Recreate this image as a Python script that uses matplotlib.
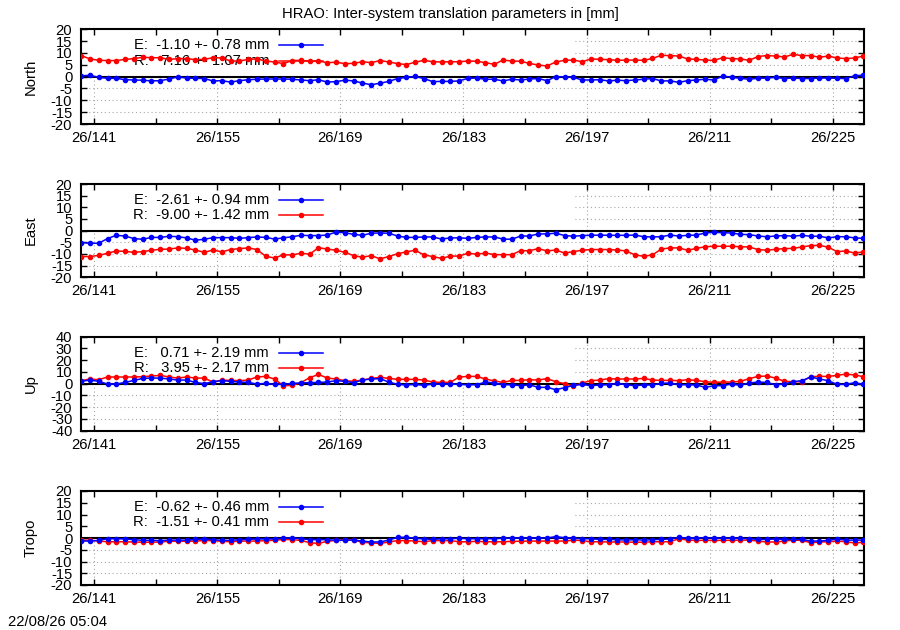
import numpy as np
import matplotlib
matplotlib.use('Agg')
import matplotlib.pyplot as plt
from matplotlib.patches import Rectangle
from matplotlib.ticker import FixedLocator

plt.rcParams['font.family'] = ['Liberation Sans', 'DejaVu Sans']
plt.rcParams['font.size'] = 10.6

title = 'HRAO: Inter-system translation parameters in [mm]'
stamp = '22/08/26 05:04'

# daily solutions, first one at day 139.5
first_day = 139.5
tick_days = [141, 155, 169, 183, 197, 211, 225]
tick_labels = ['26/141', '26/155', '26/169', '26/183', '26/197', '26/211', '26/225']
minor_days = [148, 162, 176, 190, 204, 218]

north_e = [0.3, 0.6, -0.3, -0.7, -0.7, -1.3, -1.4, -1.5, -1.8, -1.7,
           -1.0, -0.1, -0.6, -0.7, -0.8, -1.8, -1.7, -2.3, -1.7, -1.3,
           -1.1, -1.0, -1.0, -1.0, -1.1, -1.4, -1.7, -1.3, -2.3, -2.1,
           -1.5, -1.8, -2.7, -3.4, -2.8, -2.0, -0.8, -0.3, 0.1, -0.8,
           -2.1, -2.0, -2.0, -1.8, -0.7, -0.6, -1.1, -1.1, -1.8, -1.1,
           -1.4, -1.0, -0.8, -1.7, 0.0, -0.1, -0.3, -1.4, -1.4, -1.3,
           -1.8, -1.5, -1.7, -1.4, -1.1, -0.8, -1.8, -1.8, -2.4, -1.7,
           -1.4, -1.1, -1.4, 0.3, -0.3, -0.7, -1.1, -0.7, -0.6, -0.3,
           -0.8, -0.6, -0.8, -0.8, -0.6, -0.6, -0.7, -0.8, 0.4, 0.6]
north_r = [8.9, 7.5, 6.9, 6.8, 6.8, 7.3, 7.6, 8.2, 8.0, 8.0,
           7.3, 7.6, 7.6, 7.2, 7.3, 8.0, 7.9, 6.6, 6.6, 7.3,
           7.5, 6.6, 6.2, 5.5, 6.8, 6.9, 6.5, 6.6, 5.9, 6.1,
           5.5, 5.6, 6.3, 5.9, 6.8, 6.2, 5.5, 5.1, 6.1, 6.9,
           6.3, 6.2, 6.3, 6.3, 6.6, 6.5, 5.9, 5.2, 7.0, 6.6,
           6.5, 5.6, 4.9, 4.5, 6.2, 6.9, 7.0, 6.3, 7.5, 7.3,
           7.2, 6.9, 7.0, 7.0, 6.9, 7.7, 9.0, 8.9, 8.7, 7.5,
           7.3, 7.0, 6.9, 8.0, 7.6, 7.5, 6.9, 8.5, 8.9, 8.7,
           8.3, 9.4, 8.9, 8.9, 8.2, 8.7, 7.9, 7.6, 7.9, 8.7]

east_e = [-5.1, -5.4, -5.4, -3.4, -2.0, -2.3, -3.4, -3.7, -2.9, -2.9,
          -2.4, -2.6, -3.1, -4.1, -3.7, -3.0, -3.0, -3.0, -3.3, -3.0,
          -2.7, -2.9, -3.6, -3.1, -2.6, -2.0, -2.1, -2.1, -1.9, -0.6,
          -0.9, -1.6, -2.0, -1.1, -1.0, -1.1, -2.3, -2.9, -2.9, -2.7,
          -2.7, -3.6, -3.1, -3.1, -3.3, -2.9, -2.7, -2.7, -3.6, -3.7,
          -2.3, -2.3, -1.4, -1.4, -1.1, -2.1, -2.4, -2.1, -2.0, -1.9,
          -2.0, -2.0, -2.0, -1.9, -2.6, -2.7, -2.6, -1.9, -2.3, -2.0,
          -1.9, -1.0, -0.7, -0.9, -1.0, -1.6, -1.7, -2.3, -2.6, -2.3,
          -2.1, -2.4, -2.0, -2.4, -2.4, -3.1, -2.6, -2.6, -3.1, -3.3]
east_r = [-11.1, -11.1, -10.6, -9.7, -8.7, -8.9, -9.3, -9.0, -8.4, -8.0,
          -7.9, -7.4, -7.6, -8.3, -9.3, -8.3, -9.1, -8.1, -7.7, -7.4,
          -8.1, -11.0, -11.7, -10.4, -10.4, -9.7, -10.1, -7.3, -7.9, -8.4,
          -9.3, -10.7, -11.4, -10.7, -12.1, -11.1, -9.9, -9.1, -8.4, -10.4,
          -11.1, -11.9, -10.9, -10.9, -9.7, -10.1, -9.6, -10.3, -10.3, -10.3,
          -8.6, -8.6, -7.7, -8.7, -8.3, -9.6, -9.0, -8.4, -8.1, -8.1,
          -8.1, -8.3, -8.7, -10.4, -11.0, -10.4, -7.9, -7.4, -7.4, -8.4,
          -7.6, -6.9, -6.7, -6.7, -6.7, -6.9, -7.0, -8.1, -8.4, -8.0,
          -7.7, -7.6, -7.0, -6.4, -6.3, -7.1, -9.0, -8.7, -9.6, -9.1]

up_e = [2.0, 3.1, 2.0, -0.3, -0.3, 1.1, 2.8, 4.5, 4.8, 4.8,
        4.0, 3.1, 3.1, 1.1, 0.0, 1.7, 2.6, 2.0, 1.4, 1.1,
        -0.3, 0.3, -0.6, -0.6, 0.3, 0.6, 0.9, 1.1, 1.4, 2.6,
        2.0, 0.9, 3.1, 4.0, 4.3, 1.4, -0.6, -1.1, -0.6, -1.4,
        -0.3, -0.3, -0.3, -0.6, -0.9, -0.9, 1.4, 0.6, -0.9, -0.9,
        -1.7, -0.9, -3.1, -3.1, -5.1, -3.4, -1.4, -0.6, -1.7, -1.1,
        -0.9, 0.3, -0.9, -1.7, -1.1, -1.1, 0.3, 0.6, -0.9, -0.9,
        -1.1, -3.1, -1.7, -1.7, -0.3, -1.4, 0.6, 1.4, 1.1, -0.9,
        -0.3, 1.7, 2.6, 5.7, 4.0, 2.6, -0.6, -0.6, 0.9, -0.6]
up_r = [2.6, 4.0, 3.4, 5.7, 5.7, 5.7, 5.7, 6.0, 6.5, 7.1,
        5.7, 4.8, 5.7, 4.8, 4.8, 1.4, 3.1, 2.8, 2.6, 3.1,
        5.7, 6.2, 4.0, -1.7, -1.4, 0.9, 5.1, 7.9, 4.8, 4.0,
        2.6, 2.0, 3.1, 4.5, 5.4, 4.5, 3.7, 3.7, 3.7, 3.1,
        1.4, 1.1, 1.1, 5.7, 6.2, 6.2, 4.0, 2.3, 1.1, 2.8,
        2.8, 3.4, 3.1, 4.3, 1.7, 0.0, -2.0, 0.6, 2.6, 3.1,
        4.3, 4.0, 4.0, 4.0, 4.5, 3.1, 2.8, 2.8, 2.6, 3.4,
        2.8, 1.7, 1.1, 1.4, 1.4, 2.0, 4.3, 6.2, 6.5, 4.8,
        2.0, 1.7, 1.7, 6.0, 6.2, 6.2, 7.1, 8.2, 7.4, 6.0]

tropo_e = [-1.3, -1.3, -1.0, -0.3, -0.3, -0.4, -0.7, -1.0, -1.0, -1.1,
           -0.9, -0.9, -0.9, -0.6, -0.4, -0.7, -1.0, -1.0, -0.7, -0.6,
           -0.4, -0.4, -0.4, -0.1, 0.1, -0.3, -0.7, -0.7, -0.7, -1.0,
           -0.9, -0.9, -1.3, -1.7, -1.7, -0.9, 0.3, 0.3, -0.1, -0.4,
           -0.6, -0.3, -0.3, -0.1, -0.3, -0.3, -0.3, -0.3, -0.1, -0.1,
           0.1, -0.1, 0.1, 0.0, 0.6, 0.1, -0.1, -0.3, -0.3, -0.6,
           -0.6, -0.7, -0.9, -0.7, -0.9, -0.7, -0.6, -0.4, 0.3, -0.1,
           0.0, 0.1, 0.0, -0.1, -0.1, -0.1, -0.3, -0.6, -0.6, -0.4,
           -0.6, -0.6, -0.6, -1.3, -1.3, -1.0, -0.4, -0.9, -0.9, -0.9]
tropo_r = [-0.9, -1.0, -1.3, -1.6, -1.6, -1.6, -1.7, -1.8, -1.8, -1.7,
           -1.4, -1.4, -1.4, -1.3, -1.1, -1.1, -1.4, -1.6, -1.3, -1.3,
           -1.3, -1.1, -1.0, -0.6, -0.7, -1.0, -2.0, -2.3, -1.4, -1.0,
           -0.7, -0.9, -1.8, -2.1, -2.3, -1.7, -1.1, -1.1, -1.3, -1.6,
           -1.1, -1.1, -1.1, -1.6, -1.6, -1.4, -1.6, -1.6, -1.6, -1.4,
           -1.4, -1.3, -1.3, -1.3, -1.3, -1.3, -0.9, -1.1, -1.6, -1.6,
           -1.7, -1.7, -1.7, -1.8, -1.8, -1.6, -1.6, -1.6, -0.3, -0.9,
           -1.0, -1.0, -1.0, -1.0, -1.0, -0.9, -0.9, -1.3, -1.7, -1.7,
           -1.3, -0.9, -1.0, -2.0, -1.7, -1.6, -1.3, -1.6, -2.1, -1.8]

panel_names = ['North', 'East', 'Up', 'Tropo']
panel_e = [north_e, east_e, up_e, tropo_e]
panel_r = [north_r, east_r, up_r, tropo_r]
panel_lim = [20, 20, 40, 20]
panel_step = [5, 5, 10, 5]
legend_e = ['E:  -1.10 +- 0.78 mm', 'E:  -2.61 +- 0.94 mm',
            'E:   0.71 +- 2.19 mm', 'E:  -0.62 +- 0.46 mm']
legend_r = ['R:   7.16 +- 1.07 mm', 'R:  -9.00 +- 1.42 mm',
            'R:   3.95 +- 2.17 mm', 'R:  -1.51 +- 0.41 mm']

W, H = 900, 630
ax_left, ax_right = 80.7, 864.3
ax_tops = [29.3, 184.0, 336.7, 491.0]
ax_bots = [124.0, 277.3, 430.7, 585.0]

fig = plt.figure(figsize=(9, 6.3), dpi=100)

for i in range(4):
    ax = fig.add_axes([ax_left / W, 1 - ax_bots[i] / H,
                       (ax_right - ax_left) / W, (ax_bots[i] - ax_tops[i]) / H])
    e = np.array(panel_e[i])
    r = np.array(panel_r[i])
    x = first_day + np.arange(len(e))
    lim = panel_lim[i]
    yt = np.arange(-lim, lim + panel_step[i], panel_step[i])

    ax.set_xlim(139.45, 228.6)
    ax.set_ylim(-lim, lim)
    ax.set_yticks(yt)
    ax.set_yticklabels([str(v) for v in yt])
    ax.set_xticks(tick_days)
    ax.set_xticklabels(tick_labels)
    ax.xaxis.set_minor_locator(FixedLocator(minor_days))
    ax.tick_params(which='both', direction='in', top=True, right=True,
                   length=4.5, width=1.0)
    ax.tick_params(axis='x', pad=5)
    ax.tick_params(axis='y', pad=6)
    for s in ax.spines.values():
        s.set_linewidth(1.5)

    # dotted grid, hidden behind the key box
    for v in yt[1:-1]:
        ax.axhline(v, color='#a8a8a8', lw=0.8, ls=(0, (1, 2.5)), zorder=0.5)
    for d in tick_days:
        ax.axvline(d, color='#a8a8a8', lw=0.8, ls=(0, (1, 2.5)), zorder=0.5)
    ax.add_patch(Rectangle((0, 0.5), (573 - ax_left) / (ax_right - ax_left), 0.5,
                           transform=ax.transAxes, facecolor='white',
                           edgecolor='none', zorder=1))
    ax.axhline(0, color='black', lw=1.5, zorder=2)

    # key
    x_txt = (269 - ax_left) / (ax_right - ax_left)
    x0 = (279 - ax_left) / (ax_right - ax_left)
    x1 = (323 - ax_left) / (ax_right - ax_left)
    for label, col, yk in [(legend_e[i], 'blue', 0.83), (legend_r[i], 'red', 0.668)]:
        ax.text(x_txt, yk, label, transform=ax.transAxes, ha='right',
                va='center', zorder=2.5)
        ax.plot([x0, x1], [yk, yk], color=col, lw=1.1, transform=ax.transAxes,
                zorder=2.6)
        ax.plot([(x0 + x1) / 2], [yk], 'o', color=col, ms=3,
                transform=ax.transAxes, zorder=2.6)

    ax.plot(x, r, '-o', color='red', lw=1.1, ms=3, zorder=3)
    ax.plot(x, e, '-o', color='blue', lw=1.1, ms=3, zorder=3.1)

    ax.set_ylabel(panel_names[i], va='center')
    ax.yaxis.set_label_coords((31 - ax_left) / (ax_right - ax_left), 0.5)

fig.text(0.5, 1 - 14 / H, title, ha='center', va='center')
fig.text(8 / W, 1 - 622 / H, stamp, ha='left', va='center')

fig.savefig('out.png', dpi=100)
